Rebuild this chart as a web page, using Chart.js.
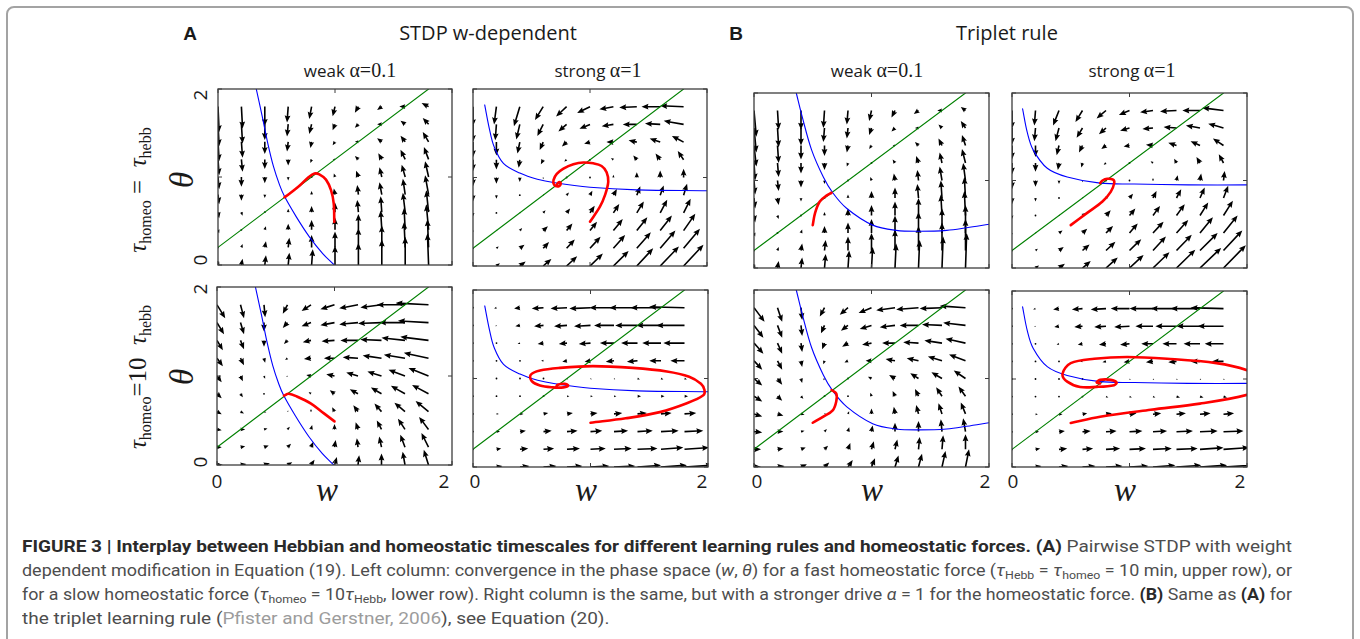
<!DOCTYPE html>
<html>
<head>
<meta charset="utf-8">
<title>Figure 3 phase planes</title>
<script src="https://cdn.jsdelivr.net/npm/chart.js@4.4.1/dist/chart.umd.min.js"></script>
<style>
  html, body { margin: 0; padding: 0; background: #fff; }
  body { width: 1360px; height: 639px; position: relative; overflow: hidden; font-family: 'Open Sans', sans-serif; color: #1a1a1a; }
  #box { position: absolute; left: 6px; top: 6px; width: 1344px; height: 700px; border: 2px solid #a3a3a3; border-radius: 8px; }
  canvas.panel { position: absolute; }
  .t { position: absolute; white-space: nowrap; line-height: 1; transform: translate(-50%, -50%); }
  .r { transform: translate(-50%, -50%) rotate(-90deg); }
  .head { font-size: 20px; }
  .letter { font-family: 'Liberation Sans', sans-serif; font-weight: bold; font-size: 19px; }
  .sub { font-size: 17px; }
  .m { font-family: 'Liberation Serif', serif; font-size: 20px; }
  .tick { font-size: 19px; }
  .ax { font-family: 'Liberation Serif', serif; font-style: italic; font-size: 33px; }
  .row { font-family: 'Liberation Serif', serif; font-size: 25px; }
  .row sub { font-size: 16px; vertical-align: -0.35em; line-height: 0; }
  .cap { position: absolute; left: 22px; white-space: nowrap; font-family: Roboto, sans-serif; font-size: 16px; line-height: 1; color: #4d4d4d; transform-origin: 0 50%; }
  .cap b { color: #2a2a2a; }
  .cap sub { font-size: 11px; vertical-align: -0.3em; line-height: 0; }
  .cap .lnk { color: #9c9c9c; }
</style>
</head>
<body>
<div id="box"></div>

<div class="t letter" style="left:190px;top:33px">A</div>
<div class="t head" style="left:488px;top:33px">STDP w-dependent</div>
<div class="t letter" style="left:736px;top:33px">B</div>
<div class="t head" style="left:1007px;top:33px">Triplet rule</div>

<div class="t sub" style="left:350px;top:70px">weak <span class="m">α=0.1</span></div>
<div class="t sub" style="left:598px;top:70px">strong <span class="m">α=1</span></div>
<div class="t sub" style="left:877px;top:70px">weak <span class="m">α=0.1</span></div>
<div class="t sub" style="left:1132px;top:70px">strong <span class="m">α=1</span></div>

<div class="t r row" style="left:137px;top:190px"><i>τ</i><sub>homeo</sub> = &nbsp;<i>τ</i><sub>hebb</sub></div>
<div class="t r row" style="left:137px;top:377px"><i>τ</i><sub>homeo</sub>=10&nbsp;&nbsp;<i>τ</i><sub>hebb</sub></div>

<div class="t r ax" style="left:182px;top:180px">θ</div>
<div class="t r ax" style="left:182px;top:377px">θ</div>

<div class="t r tick" style="left:200px;top:95px">2</div>
<div class="t r tick" style="left:200px;top:260px">0</div>
<div class="t r tick" style="left:200px;top:289px">2</div>
<div class="t r tick" style="left:200px;top:462px">0</div>

<div class="t tick" style="left:217px;top:481px">0</div>
<div class="t tick" style="left:444px;top:481px">2</div>
<div class="t tick" style="left:475px;top:481px">0</div>
<div class="t tick" style="left:702px;top:481px">2</div>
<div class="t tick" style="left:757px;top:481px">0</div>
<div class="t tick" style="left:985px;top:481px">2</div>
<div class="t tick" style="left:1013px;top:481px">0</div>
<div class="t tick" style="left:1240px;top:481px">2</div>

<div class="t ax" style="left:327px;top:490px">w</div>
<div class="t ax" style="left:586px;top:490px">w</div>
<div class="t ax" style="left:872px;top:490px">w</div>
<div class="t ax" style="left:1125px;top:490px">w</div>

<div class="cap" data-end="1292" style="top:539px"><b>FIGURE 3 | Interplay between Hebbian and homeostatic timescales for different learning rules and homeostatic forces. (A)</b> Pairwise STDP with weight</div>
<div class="cap" data-end="1292" style="top:563px">dependent modification in Equation (19). Left column: convergence in the phase space (<i>w</i>, <i>θ</i>) for a fast homeostatic force (<i>τ</i><sub>Hebb</sub> = <i>τ</i><sub>homeo</sub> = 10 min, upper row), or</div>
<div class="cap" data-end="1292" style="top:587px">for a slow homeostatic force (<i>τ</i><sub>homeo</sub> = 10<i>τ</i><sub>Hebb</sub>, lower row). Right column is the same, but with a stronger drive <i>α</i> = 1 for the homeostatic force. <b>(B)</b> Same as <b>(A)</b> for</div>
<div class="cap" style="top:611px">the triplet learning rule (<span class="lnk">Pfister and Gerstner, 2006</span>), see Equation (20).</div>

<script>
// quiver grid (tails of the arrows)
const wGrid = [0, 0.2, 0.4, 0.6, 0.8, 1.0, 1.2, 1.4, 1.6, 1.8];
const thetaGrid = [0, 0.2, 0.4, 0.6, 0.8, 1.0, 1.2, 1.4, 1.6, 1.8];
const axisTicks = [0, 1, 2];

// theta nullcline (green), same in all panels
const thetaNull = [[0, 0.2], [1.8, 2.0]];

// w nullclines (blue)
const stdpWeakNull = [[0.327, 2.0], [0.378, 1.69], [0.426, 1.38], [0.474, 1.12], [0.526, 0.91], [0.568, 0.78], [0.668, 0.55], [0.781, 0.32], [0.895, 0.13], [0.994, 0]];
const stdpStrongNull = [[0.1, 1.82], [0.14, 1.55], [0.18, 1.35], [0.26, 1.16], [0.4, 1.05], [0.55, 0.98], [0.7, 0.94], [1.0, 0.89], [1.4, 0.86], [2.0, 0.85]];
const tripWeakNull = [[0.36, 2.0], [0.41, 1.73], [0.49, 1.35], [0.59, 1.04], [0.67, 0.86], [0.79, 0.68], [1.01, 0.49], [1.21, 0.43], [1.41, 0.42], [1.64, 0.43], [1.81, 0.46], [2.0, 0.5]];
const tripStrongNull = [[0.09, 1.82], [0.13, 1.55], [0.18, 1.35], [0.3, 1.14], [0.47, 1.04], [0.75, 0.97], [1.04, 0.96], [1.5, 0.95], [2.0, 0.95]];

// trajectories (red)
const a1Traj = [[0.994, 0.49], [0.989, 0.70], [0.966, 0.85], [0.923, 0.97], [0.866, 1.03], [0.824, 1.04], [0.776, 1.0], [0.696, 0.9], [0.611, 0.81], [0.568, 0.77]];
const a2Traj = [[1.0, 0.5], [1.085, 0.67], [1.128, 0.80], [1.156, 0.95], [1.142, 1.06], [1.099, 1.13], [1.028, 1.16], [0.943, 1.17], [0.858, 1.15], [0.773, 1.10], [0.716, 1.04], [0.688, 0.97], [0.693, 0.92], [0.73, 0.90], [0.75, 0.93], [0.739, 0.95], [0.72, 0.93]];
const a3Traj = [[1.0, 0.49], [0.91, 0.58], [0.8, 0.69], [0.68, 0.77], [0.61, 0.80], [0.57, 0.78]];
const a4Traj = [[1.0, 0.5], [1.3, 0.55], [1.59, 0.62], [1.82, 0.72], [1.96, 0.81], [1.97, 0.87], [1.94, 0.94], [1.84, 1.02], [1.65, 1.08], [1.36, 1.12], [1.02, 1.14], [0.74, 1.12], [0.57, 1.09], [0.49, 1.04], [0.5, 0.97], [0.57, 0.92], [0.68, 0.9], [0.77, 0.9], [0.81, 0.92], [0.78, 0.94], [0.72, 0.93], [0.71, 0.91]];
const b1Traj = [[0.5, 0.49], [0.52, 0.63], [0.56, 0.76], [0.62, 0.83], [0.66, 0.86]];
const b2Traj = [[0.5, 0.49], [0.64, 0.63], [0.77, 0.76], [0.84, 0.87], [0.87, 0.97], [0.86, 1.01], [0.81, 1.02], [0.77, 1.0], [0.75, 0.97]];
const b3Traj = [[0.5, 0.5], [0.59, 0.57], [0.67, 0.64], [0.7, 0.74], [0.7, 0.83], [0.66, 0.87]];
const b4Traj = [[0.5, 0.5], [0.75, 0.57], [1.18, 0.65], [1.6, 0.72], [2.0, 0.82], [2.12, 0.9], [2.14, 1.0], [2.0, 1.1], [1.74, 1.18], [1.32, 1.23], [0.98, 1.25], [0.7, 1.23], [0.5, 1.18], [0.43, 1.06], [0.47, 0.97], [0.58, 0.91], [0.72, 0.91], [0.87, 0.93], [0.89, 0.96], [0.84, 0.99], [0.75, 0.99], [0.72, 0.96], [0.75, 0.95]];

// arrow components, one row per theta of thetaGrid, one column per w of wGrid
const a1U = [
  [.01, .01, .01, .01, .01, 0, 0, 0, 0, -.01],
  [.01, .01, .01, .01, 0, 0, 0, 0, -.01, -.01],
  [.01, .01, .01, 0, 0, 0, 0, -.01, -.01, -.02],
  [.01, .01, 0, 0, 0, 0, -.01, -.01, -.02, -.02],
  [.01, 0, 0, 0, 0, -.01, -.01, -.02, -.02, -.03],
  [.01, 0, 0, 0, -.01, -.01, -.02, -.02, -.03, -.03],
  [.01, .01, 0, 0, -.01, -.02, -.03, -.03, -.04, -.04],
  [.01, .01, 0, -.01, -.01, -.02, -.03, -.04, -.04, -.05],
  [.01, .01, 0, -.01, -.02, -.02, -.03, -.04, -.04, -.05],
  [.01, .01, 0, -.01, -.02, -.02, -.03, -.04, -.05, -.06]
];
const a1V = [
  [.04, .07, .11, .14, .18, .22, .25, .29, .32, .36],
  [0, .04, .07, .11, .14, .18, .22, .25, .29, .32],
  [-.04, 0, .04, .07, .11, .14, .18, .22, .25, .29],
  [-.07, -.04, 0, .04, .07, .11, .14, .18, .22, .25],
  [-.11, -.07, -.04, 0, .04, .07, .11, .14, .18, .22],
  [-.14, -.11, -.07, -.04, 0, .04, .07, .11, .14, .18],
  [-.18, -.14, -.11, -.07, -.04, 0, .04, .07, .11, .14],
  [-.22, -.18, -.14, -.11, -.07, -.04, 0, .04, .07, .11],
  [-.25, -.22, -.18, -.14, -.11, -.07, -.04, 0, .04, .07],
  [-.29, -.25, -.22, -.18, -.14, -.11, -.07, -.04, 0, .04]
];
const a2U = [
  [0, .03, .05, .07, .09, .11, .13, .14, .16, .17],
  [0, .02, .04, .05, .07, .09, .1, .12, .13, .14],
  [0, .01, .02, .04, .05, .06, .08, .09, .1, .1],
  [0, 0, .01, .02, .03, .04, .05, .06, .06, .06],
  [0, 0, 0, .01, .02, .02, .03, .03, .03, .03],
  [0, 0, 0, 0, 0, 0, 0, 0, 0, 0],
  [0, 0, -.01, -.02, -.02, -.01, -.02, -.03, -.04, -.05],
  [0, 0, -.02, -.03, -.04, -.05, -.06, -.07, -.09, -.1],
  [0, -.01, -.03, -.05, -.07, -.09, -.1, -.12, -.13, -.17],
  [0, -.02, -.05, -.07, -.09, -.11, -.12, -.15, -.16, -.2]
];
const a2V = [
  [.02, .03, .05, .08, .11, .14, .17, .2, .22, .24],
  [0, .02, .04, .07, .1, .13, .15, .18, .2, .22],
  [-.02, .01, .03, .05, .08, .1, .13, .15, .17, .19],
  [-.04, -.01, .01, .03, .05, .08, .1, .13, .15, .16],
  [-.07, -.04, -.01, .01, .03, .05, .07, .1, .11, .13],
  [-.1, -.07, -.05, -.02, 0, .01, .03, .06, .08, .1],
  [-.13, -.11, -.09, -.05, -.02, 0, .02, .05, .07, .1],
  [-.17, -.15, -.13, -.09, -.05, -.02, 0, .02, .04, .07],
  [-.2, -.18, -.17, -.13, -.08, -.05, -.02, 0, .01, .04],
  [-.22, -.2, -.22, -.15, -.11, -.07, -.03, -.01, 0, .01]
];
const a3U = [
  [.05, .05, .05, .04, .03, .02, .01, 0, -.02, -.04],
  [.04, .04, .04, .03, .02, .01, -.01, -.02, -.04, -.06],
  [.04, .04, .03, .02, .01, 0, -.02, -.04, -.06, -.08],
  [.04, .03, .02, .01, 0, -.02, -.04, -.06, -.09, -.11],
  [.04, .02, 0, -.01, -.02, -.04, -.07, -.09, -.12, -.14],
  [.04, .02, .01, -.01, -.04, -.07, -.1, -.12, -.14, -.17],
  [.05, .03, .01, -.02, -.06, -.09, -.13, -.16, -.18, -.21],
  [.05, .03, 0, -.03, -.07, -.11, -.15, -.18, -.2, -.24],
  [.06, .03, 0, -.04, -.08, -.12, -.16, -.2, -.22, -.26],
  [.07, .03, .01, -.04, -.08, -.12, -.16, -.18, -.24, -.28]
];
const a3V = [
  [0, .01, .02, .03, .06, .09, .11, .13, .15, .17],
  [0, .01, .02, .04, .06, .08, .1, .12, .14, .16],
  [-.01, 0, .01, .03, .05, .06, .08, .1, .12, .14],
  [-.03, -.02, -.01, .01, .03, .05, .07, .09, .1, .12],
  [-.05, -.04, -.01, 0, .02, .04, .05, .07, .09, .1],
  [-.07, -.06, -.03, -.01, .01, .02, .04, .05, .07, .09],
  [-.09, -.08, -.05, -.02, -.01, 0, .01, .03, .04, .06],
  [-.11, -.1, -.07, -.04, -.02, -.01, 0, .01, .03, .04],
  [-.13, -.13, -.1, -.06, -.04, -.03, -.02, -.01, 0, .02],
  [-.15, -.15, -.14, -.1, -.07, -.05, -.04, -.03, 0, .02]
];
const a4U = [
  [.02, .05, .08, .11, .13, .16, .18, .2, .22, .24],
  [.01, .04, .07, .09, .11, .13, .15, .17, .19, .21],
  [.01, .03, .05, .07, .09, .1, .12, .13, .15, .16],
  [0, .02, .03, .04, .05, .06, .07, .08, .09, .1],
  [0, .01, .01, .01, .02, .02, .02, .03, .03, .03],
  [0, 0, 0, 0, .01, .01, .01, .02, .02, .02],
  [0, 0, 0, -.02, -.04, -.05, -.07, -.09, -.1, -.12],
  [0, 0, -.02, -.05, -.07, -.1, -.12, -.14, -.16, -.18],
  [0, -.01, -.04, -.08, -.11, -.14, -.17, -.19, -.21, -.24],
  [0, -.02, -.05, -.1, -.14, -.18, -.21, -.24, -.26, -.3]
];
const a4V = [
  [0, .01, .01, .01, .01, .01, .01, .02, .02, .02],
  [0, .01, .01, .01, .01, .01, .01, .01, .02, .02],
  [0, 0, .01, .01, .01, .01, .01, .01, .01, .01],
  [0, 0, 0, .01, .01, .01, .01, .01, .01, .01],
  [0, 0, 0, 0, 0, 0, 0, 0, 0, 0],
  [0, 0, 0, 0, -.01, -.01, -.01, -.01, -.01, -.01],
  [0, 0, 0, 0, -.01, -.01, -.01, -.01, 0, 0],
  [0, 0, -.01, -.01, -.01, -.01, 0, 0, 0, 0],
  [0, -.01, -.01, -.01, -.01, -.01, 0, 0, 0, 0],
  [-.01, -.01, -.01, -.01, -.01, -.01, 0, 0, 0, .01]
];
const b1U = [
  [.01, .01, .01, .01, .01, .01, .01, .01, .01, .01],
  [.01, .01, .01, .01, 0, 0, 0, 0, 0, 0],
  [.01, .01, .01, 0, 0, 0, 0, 0, 0, 0],
  [.01, .01, .01, 0, 0, 0, 0, 0, -.01, -.01],
  [.01, .01, 0, 0, 0, 0, 0, -.01, -.01, -.01],
  [.01, .01, 0, 0, 0, -.01, -.01, -.01, -.02, -.02],
  [.01, .01, 0, 0, -.01, -.01, -.02, -.02, -.02, -.03],
  [.02, .01, 0, 0, -.01, -.02, -.02, -.03, -.03, -.03],
  [.02, .01, 0, -.01, -.01, -.02, -.03, -.03, -.03, -.04],
  [.02, .01, 0, -.01, -.01, -.02, -.03, -.04, -.04, -.04]
];
const b1V = [
  [.04, .08, .12, .16, .2, .24, .28, .32, .36, .4],
  [0, .04, .08, .12, .16, .2, .24, .28, .32, .36],
  [-.04, 0, .04, .08, .12, .16, .2, .24, .28, .32],
  [-.08, -.04, 0, .04, .08, .12, .16, .2, .24, .28],
  [-.12, -.08, -.04, 0, .04, .08, .12, .16, .2, .24],
  [-.16, -.12, -.08, -.04, 0, .04, .08, .12, .16, .2],
  [-.2, -.16, -.12, -.08, -.04, 0, .04, .08, .12, .16],
  [-.24, -.2, -.16, -.12, -.08, -.04, 0, .04, .08, .12],
  [-.28, -.22, -.2, -.16, -.12, -.08, -.04, 0, .04, .08],
  [-.3, -.22, -.22, -.2, -.16, -.12, -.08, -.04, 0, .04]
];
const b2U = [
  [0, .03, .05, .07, .1, .12, .14, .16, .18, .19],
  [0, .02, .04, .06, .08, .1, .11, .13, .15, .16],
  [0, .01, .03, .04, .06, .07, .09, .1, .11, .12],
  [0, 0, .01, .03, .04, .05, .06, .07, .07, .08],
  [0, 0, 0, .01, .02, .03, .03, .04, .04, .04],
  [0, 0, 0, 0, 0, 0, 0, .01, .01, .01],
  [0, 0, -.01, -.01, -.02, -.01, -.02, -.02, -.03, -.04],
  [0, 0, -.02, -.03, -.04, -.05, -.06, -.07, -.08, -.09],
  [0, -.01, -.03, -.05, -.06, -.08, -.09, -.11, -.12, -.13],
  [0, -.01, -.05, -.06, -.08, -.09, -.11, -.14, -.15, -.18]
];
const b2V = [
  [.02, .03, .05, .08, .12, .15, .18, .21, .23, .26],
  [0, .02, .04, .07, .1, .13, .16, .18, .2, .23],
  [-.02, .01, .03, .05, .08, .11, .13, .15, .18, .2],
  [-.04, -.01, .01, .03, .06, .08, .11, .13, .15, .17],
  [-.07, -.04, -.01, .01, .03, .05, .08, .1, .12, .14],
  [-.1, -.07, -.04, -.02, 0, .01, .03, .06, .08, .11],
  [-.13, -.1, -.08, -.05, -.02, 0, .02, .05, .07, .1],
  [-.16, -.13, -.11, -.08, -.04, -.01, .01, .03, .05, .08],
  [-.19, -.15, -.15, -.11, -.07, -.03, -.01, .01, .03, .05],
  [-.21, -.17, -.17, -.13, -.09, -.05, -.02, -.01, 0, .03]
];
const b3U = [
  [.06, .06, .05, .04, .04, .03, .03, .03, .03, .03],
  [.06, .05, .04, .03, .02, .02, .02, .01, .01, 0],
  [.07, .05, .03, .02, .01, .01, 0, 0, -.01, -.02],
  [.07, .05, .03, .01, .01, 0, -.01, -.02, -.03, -.04],
  [.07, .04, .02, 0, 0, -.01, -.02, -.03, -.05, -.06],
  [.07, .04, .01, -.01, -.01, -.03, -.05, -.07, -.09, -.1],
  [.07, .04, .01, -.01, -.03, -.05, -.08, -.1, -.12, -.14],
  [.08, .04, .01, -.02, -.05, -.08, -.11, -.13, -.15, -.17],
  [.08, .04, .01, -.03, -.06, -.1, -.13, -.16, -.17, -.19],
  [.09, .04, .01, -.04, -.07, -.11, -.16, -.19, -.19, -.22]
];
const b3V = [
  [0, .01, .03, .05, .08, .1, .13, .15, .18, .2],
  [0, .01, .02, .04, .07, .09, .11, .14, .16, .17],
  [-.01, 0, .01, .03, .05, .07, .1, .12, .14, .15],
  [-.03, -.02, -.01, .01, .03, .06, .08, .1, .12, .13],
  [-.06, -.05, -.03, 0, .01, .04, .06, .08, .1, .11],
  [-.08, -.07, -.05, -.02, 0, .02, .04, .06, .07, .09],
  [-.1, -.1, -.07, -.04, -.02, 0, .02, .03, .05, .07],
  [-.12, -.12, -.1, -.07, -.04, -.02, 0, .01, .03, .05],
  [-.14, -.14, -.12, -.09, -.06, -.04, -.02, 0, .01, .03],
  [-.16, -.16, -.14, -.1, -.08, -.06, -.03, -.02, -.01, .02]
];
const b4U = [
  [.02, .05, .08, .11, .14, .16, .19, .21, .23, .26],
  [.01, .04, .07, .09, .12, .14, .16, .18, .2, .22],
  [.01, .03, .05, .07, .09, .11, .12, .14, .15, .17],
  [0, .02, .03, .04, .05, .06, .07, .08, .09, .09],
  [0, 0, .01, .01, .02, .02, .02, .03, .03, .03],
  [0, 0, 0, 0, .01, .01, .01, .01, .01, .01],
  [0, 0, 0, -.02, -.03, -.05, -.06, -.07, -.08, -.1],
  [0, 0, -.02, -.04, -.06, -.08, -.1, -.12, -.14, -.16],
  [0, -.01, -.04, -.07, -.1, -.13, -.15, -.18, -.2, -.22],
  [0, -.02, -.05, -.09, -.13, -.16, -.2, -.22, -.25, -.28]
];
const b4V = [
  [0, .01, .01, .01, .01, .01, .02, .02, .02, .02],
  [0, .01, .01, .01, .01, .01, .01, .01, .02, .02],
  [0, 0, .01, .01, .01, .01, .01, .01, .01, .01],
  [0, 0, 0, .01, .01, .01, .01, .01, .01, .01],
  [0, 0, 0, 0, -.01, -.01, -.01, -.01, -.01, -.01],
  [0, 0, 0, 0, -.01, -.01, -.01, -.01, -.01, -.01],
  [0, 0, 0, 0, -.01, -.01, -.01, -.01, 0, 0],
  [0, 0, -.01, -.01, -.01, -.01, 0, 0, 0, 0],
  [0, -.01, -.01, -.01, -.01, -.01, 0, 0, 0, 0],
  [-.01, -.01, -.01, -.01, -.01, 0, 0, 0, 0, .01]
];

// plot frames on the page: left, top, right, bottom
const panels = [
  { box: [218, 89, 452, 265], u: a1U, v: a1V, wNull: stdpWeakNull, traj: a1Traj },
  { box: [473, 89, 707, 266], u: a2U, v: a2V, wNull: stdpStrongNull, traj: a2Traj },
  { box: [754, 93, 989, 268], u: b1U, v: b1V, wNull: tripWeakNull, traj: b1Traj },
  { box: [1012, 93, 1247, 268], u: b2U, v: b2V, wNull: tripStrongNull, traj: b2Traj },
  { box: [217, 287, 452, 465], u: a3U, v: a3V, wNull: stdpWeakNull, traj: a3Traj },
  { box: [473, 290, 708, 467], u: a4U, v: a4V, wNull: stdpStrongNull, traj: a4Traj },
  { box: [754, 290, 989, 467], u: b3U, v: b3V, wNull: tripWeakNull, traj: b3Traj },
  { box: [1012, 291, 1247, 467], u: b4U, v: b4V, wNull: tripStrongNull, traj: b4Traj }
];

// matplotlib-like quiver arrow, tail at (x0, y0)
function arrow(ctx, x0, y0, x1, y1) {
  const dx = x1 - x0, dy = y1 - y0;
  const len = Math.hypot(dx, dy);
  if (len < 1.2) {
    ctx.beginPath();
    ctx.arc(x0, y0, 0.9, 0, Math.PI * 2);
    ctx.fill();
    return;
  }
  const s = Math.min(1, len / 7);
  const sw = 0.8 * s, hw = 2.9 * s, hl = 7 * s, ha = 6.2 * s;
  ctx.save();
  ctx.translate(x0, y0);
  ctx.rotate(Math.atan2(dy, dx));
  ctx.beginPath();
  ctx.moveTo(0, -sw);
  ctx.lineTo(len - ha, -sw);
  ctx.lineTo(len - hl, -hw);
  ctx.lineTo(len, 0);
  ctx.lineTo(len - hl, hw);
  ctx.lineTo(len - ha, sw);
  ctx.lineTo(0, sw);
  ctx.closePath();
  ctx.fill();
  ctx.restore();
}

function quiverPlugin(u, v) {
  return {
    id: 'quiver',
    beforeDatasetsDraw(chart) {
      const { ctx, chartArea: a, scales: { x, y } } = chart;
      ctx.save();
      ctx.beginPath();
      ctx.rect(a.left, a.top, a.right - a.left, a.bottom - a.top);
      ctx.clip();
      ctx.fillStyle = '#000';
      thetaGrid.forEach((th, i) => {
        wGrid.forEach((w, j) => {
          arrow(ctx,
            x.getPixelForValue(w), y.getPixelForValue(th),
            x.getPixelForValue(w + u[i][j]), y.getPixelForValue(th + v[i][j]));
        });
      });
      ctx.restore();
    }
  };
}

const framePlugin = {
  id: 'frame',
  afterDatasetsDraw(chart) {
    const { ctx, chartArea: a, scales: { x, y } } = chart;
    ctx.save();
    ctx.strokeStyle = '#3d3d3d';
    ctx.lineWidth = 1.3;
    ctx.strokeRect(a.left, a.top, a.right - a.left, a.bottom - a.top);
    ctx.lineWidth = 1;
    ctx.beginPath();
    axisTicks.forEach(t => {
      const px = x.getPixelForValue(t), py = y.getPixelForValue(t);
      ctx.moveTo(px, a.top); ctx.lineTo(px, a.top + 4);
      ctx.moveTo(px, a.bottom); ctx.lineTo(px, a.bottom - 4);
      ctx.moveTo(a.left, py); ctx.lineTo(a.left + 4, py);
      ctx.moveTo(a.right, py); ctx.lineTo(a.right - 4, py);
    });
    ctx.stroke();
    ctx.restore();
  }
};

const pts = arr => arr.map(([x, y]) => ({ x, y }));

function curve(data, color, width, tension) {
  return {
    data: pts(data),
    borderColor: color,
    borderWidth: width,
    pointRadius: 0,
    tension: tension,
    fill: false,
    clip: 0,
    borderCapStyle: 'round',
    borderJoinStyle: 'round'
  };
}

function makePanel(p) {
  const pad = 4;
  const [l, t, r, b] = p.box;
  const canvas = document.createElement('canvas');
  canvas.className = 'panel';
  canvas.width = r - l + 2 * pad;
  canvas.height = b - t + 2 * pad;
  canvas.style.left = (l - pad) + 'px';
  canvas.style.top = (t - pad) + 'px';
  document.body.appendChild(canvas);

  new Chart(canvas, {
    type: 'line',
    data: {
      datasets: [
        curve(p.traj, '#ff0000', 2.6, 0.35),
        curve(p.wNull, '#0000ff', 1.1, 0.35),
        curve(thetaNull, '#008000', 1.1, 0)
      ]
    },
    options: {
      responsive: false,
      animation: false,
      events: [],
      devicePixelRatio: 1,
      layout: { padding: pad },
      plugins: { legend: { display: false }, tooltip: { enabled: false } },
      scales: {
        x: { type: 'linear', min: 0, max: 2, display: false },
        y: { type: 'linear', min: 0, max: 2, display: false }
      }
    },
    plugins: [quiverPlugin(p.u, p.v), framePlugin]
  });
}

panels.forEach(makePanel);

// stretch the full caption lines to the width they have in the figure;
// the short last line keeps the first line's factor
function fitCaption() {
  const lines = Array.from(document.querySelectorAll('.cap'));
  let firstScale = 1;
  lines.forEach((el, i) => {
    el.style.transform = 'none';
    const w = el.getBoundingClientRect().width;
    let k = firstScale;
    if (el.dataset.end) k = (Number(el.dataset.end) - 22) / w;
    if (i === 0) firstScale = k;
    el.style.transform = 'scaleX(' + k + ')';
  });
}
fitCaption();
if (document.fonts) document.fonts.ready.then(fitCaption);
</script>
</body>
</html>
